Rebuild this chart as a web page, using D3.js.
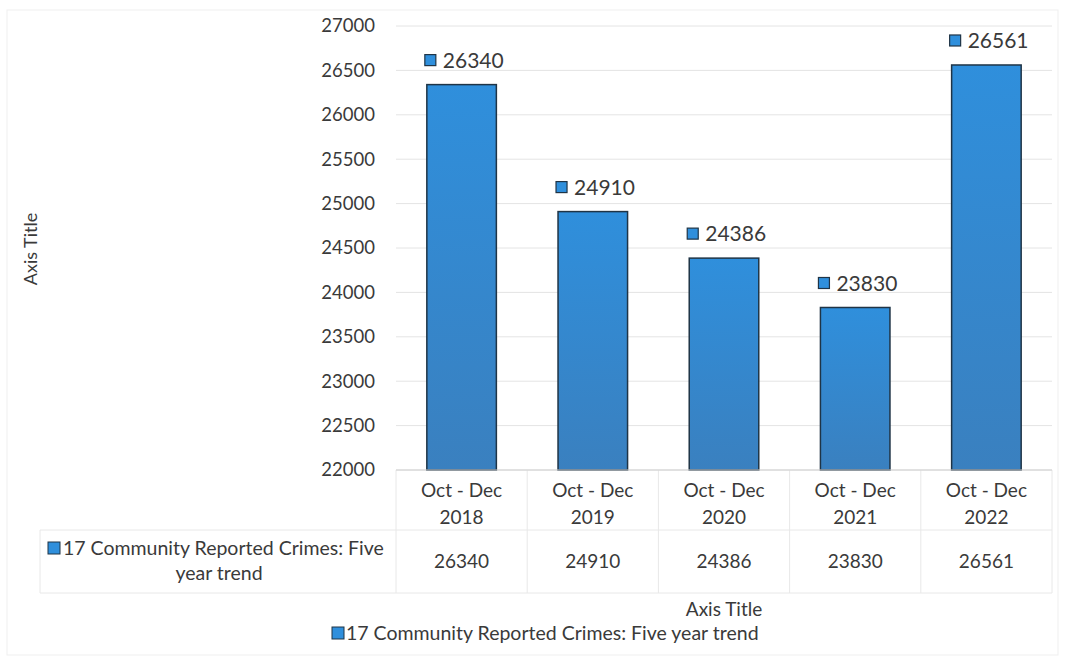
<!DOCTYPE html>
<html>

<head>
    <meta charset="UTF-8">
    <style>
        body { margin: 0; background: #fff; }
        text { font-family: Lato, "Open Sans", sans-serif; fill: #3a3a3a; }
    </style>
</head>

<body>
    <svg></svg>
    <script src="https://d3js.org/d3.v7.min.js"></script>
    <script>
        let width = 1065,
            height = 659;

        // data
        let categories = ["Oct - Dec 2018", "Oct - Dec 2019", "Oct - Dec 2020", "Oct - Dec 2021", "Oct - Dec 2022"];
        let values = [26340, 24910, 24386, 23830, 26561];
        let yTicks = [22000, 22500, 23000, 23500, 24000, 24500, 25000, 25500, 26000, 26500, 27000];
        let seriesName = "17 Community Reported Crimes: Five year trend";

        let svg = d3.select("svg")
            .attr("width", width)
            .attr("height", height);

        let defs = svg.append("defs");
        let grad = defs.append("linearGradient")
            .attr("id", "barGrad")
            .attr("x1", 0).attr("y1", 0).attr("x2", 0).attr("y2", 1);
        grad.append("stop").attr("offset", "0%").attr("stop-color", "#2f8fdc");
        grad.append("stop").attr("offset", "100%").attr("stop-color", "#3a80bf");

        // outer chart border
        svg.append("rect")
            .attr("x", 7).attr("y", 10)
            .attr("width", width - 14).attr("height", height - 14)
            .attr("fill", "none")
            .attr("stroke", "#efefef");

        let x = d3.scaleBand()
            .domain(categories)
            .range([396, 1052])
            .paddingInner(0.47)
            .paddingOuter(0.235);

        let y = d3.scaleLinear()
            .domain([22000, 27000])
            .range([470, 26]);

        // gridlines
        svg.append("g")
            .selectAll("line")
            .data(yTicks)
            .enter()
            .append("line")
            .attr("x1", 396).attr("x2", 1052)
            .attr("y1", d => y(d)).attr("y2", d => y(d))
            .attr("stroke", "#e4e4e4")
            .attr("stroke-width", 1);

        // y axis labels
        let yAxis = svg.append("g")
            .attr("transform", "translate(381,0)")
            .call(d3.axisLeft(y).tickValues(yTicks).tickSize(0).tickPadding(6).tickFormat(d3.format("d")));
        yAxis.select(".domain").remove();
        yAxis.selectAll("text")
            .style("font-size", "18.5px")
            .style("font-family", "Lato, 'Open Sans', sans-serif")
            .attr("fill", "#3a3a3a");

        svg.append("text")
            .attr("transform", "translate(37,249) rotate(-90)")
            .attr("text-anchor", "middle")
            .style("font-size", "18px")
            .text("Axis Title");

        // bars
        svg.append("g")
            .selectAll("rect")
            .data(values)
            .enter()
            .append("rect")
            .attr("x", (d, i) => x(categories[i]))
            .attr("y", d => y(d))
            .attr("width", x.bandwidth())
            .attr("height", d => y(22000) - y(d))
            .attr("fill", "url(#barGrad)")
            .attr("stroke", "#1f3446")
            .attr("stroke-width", 1.5);

        // data labels
        let labels = svg.append("g")
            .selectAll("g")
            .data(values)
            .enter()
            .append("g")
            .attr("transform", (d, i) => "translate(" + (x(categories[i]) - 2) + "," + (y(d) - 24) + ")");
        labels.append("rect")
            .attr("x", 0).attr("y", -6)
            .attr("width", 11).attr("height", 11)
            .attr("fill", "#2f8fdc")
            .attr("stroke", "#1f3446")
            .attr("stroke-width", 1.2);
        labels.append("text")
            .attr("x", 18).attr("y", 0)
            .attr("dy", "0.35em")
            .style("font-size", "21px")
            .attr("fill", "#222")
            .text(d => d);

        // data table
        let table = svg.append("g");
        let colEdges = [396].concat(categories.map(c => x(c) + x.bandwidth() + x.step() * x.paddingInner() / 2));
        colEdges[colEdges.length - 1] = 1052;
        let tableLines = "#e8e8e8";
        colEdges.forEach(cx => {
            table.append("line")
                .attr("x1", cx).attr("x2", cx)
                .attr("y1", 470).attr("y2", 593)
                .attr("stroke", tableLines);
        });
        table.append("line").attr("x1", 40).attr("x2", 40).attr("y1", 530).attr("y2", 593).attr("stroke", tableLines);
        table.append("line").attr("x1", 40).attr("x2", 1052).attr("y1", 530).attr("y2", 530).attr("stroke", tableLines);
        table.append("line").attr("x1", 40).attr("x2", 1052).attr("y1", 593).attr("y2", 593).attr("stroke", tableLines);
        table.append("line").attr("x1", 396).attr("x2", 1052).attr("y1", 470).attr("y2", 470).attr("stroke", "#d0d0d0");

        categories.forEach((c, i) => {
            let cx = x(c) + x.bandwidth() / 2;
            let parts = c.split(" 20");
            table.append("text")
                .attr("x", cx).attr("y", 497)
                .attr("text-anchor", "middle")
                .style("font-size", "19px")
                .text(parts[0]);
            table.append("text")
                .attr("x", cx).attr("y", 524)
                .attr("text-anchor", "middle")
                .style("font-size", "19px")
                .text("20" + parts[1]);
            table.append("text")
                .attr("x", cx).attr("y", 568)
                .attr("text-anchor", "middle")
                .style("font-size", "19px")
                .text(values[i]);
        });

        // legend cell in table
        table.append("rect")
            .attr("x", 48).attr("y", 542)
            .attr("width", 12).attr("height", 12)
            .attr("fill", "#2f8fdc").attr("stroke", "#1f3446");
        table.append("text")
            .attr("x", 63).attr("y", 555)
            .style("font-size", "19.5px")
            .text("17 Community Reported Crimes: Five");
        table.append("text")
            .attr("x", 219).attr("y", 580)
            .attr("text-anchor", "middle")
            .style("font-size", "19.5px")
            .text("year trend");

        // x axis title
        svg.append("text")
            .attr("x", 724).attr("y", 616)
            .attr("text-anchor", "middle")
            .style("font-size", "19px")
            .text("Axis Title");

        // legend
        svg.append("rect")
            .attr("x", 332).attr("y", 627)
            .attr("width", 12).attr("height", 12)
            .attr("fill", "#2f8fdc").attr("stroke", "#1f3446");
        svg.append("text")
            .attr("x", 346).attr("y", 640)
            .style("font-size", "19.5px")
            .text(seriesName);
    </script>
</body>

</html>
